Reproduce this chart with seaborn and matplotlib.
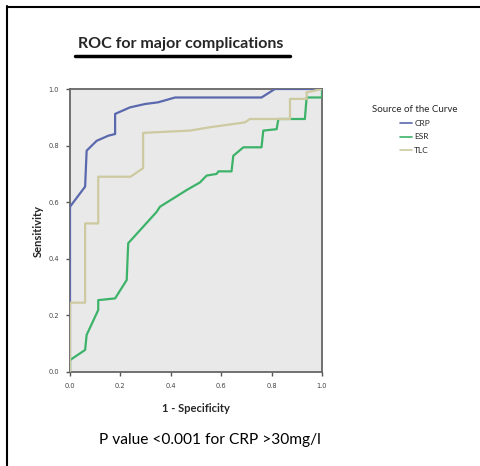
import matplotlib
matplotlib.use("Agg")
import matplotlib.pyplot as plt
import matplotlib.lines as mlines
import numpy as np
import pandas as pd
import seaborn as sns

# ROC curve points (1 - specificity, sensitivity) for each marker
crp_fpr = [0.0, 0.0, 0.06, 0.066, 0.106, 0.152, 0.179, 0.179, 0.238, 0.298, 0.35, 0.417, 0.76, 0.813, 1.0]
crp_tpr = [0.0, 0.584, 0.655, 0.782, 0.817, 0.835, 0.841, 0.912, 0.935, 0.947, 0.953, 0.97, 0.97, 1.0, 1.0]

esr_fpr = [0.0, 0.0, 0.06, 0.066, 0.112, 0.112, 0.179, 0.225, 0.231, 0.344, 0.357, 0.463, 0.516,
           0.542, 0.582, 0.589, 0.641, 0.648, 0.688, 0.76, 0.767, 0.82, 0.827, 0.932, 0.939, 1.0, 1.0]
esr_tpr = [0.0, 0.042, 0.078, 0.131, 0.219, 0.254, 0.26, 0.325, 0.455, 0.566, 0.584, 0.643, 0.67,
           0.694, 0.70, 0.709, 0.709, 0.764, 0.794, 0.794, 0.853, 0.858, 0.894, 0.894, 0.97, 0.97, 1.0]

tlc_fpr = [0.0, 0.0, 0.06, 0.06, 0.112, 0.112, 0.24, 0.29, 0.29, 0.476, 0.556, 0.694, 0.714, 0.873,
           0.873, 0.939, 0.939, 1.0]
tlc_tpr = [0.0, 0.245, 0.245, 0.525, 0.525, 0.69, 0.69, 0.72, 0.845, 0.853, 0.865, 0.882, 0.894, 0.894,
           0.965, 0.965, 0.988, 1.0]

markers = ["CRP", "ESR", "TLC"]
colors = {"CRP": "#5a68ad", "ESR": "#3db36a", "TLC": "#cdc9a0"}
ticks = [0.0, 0.2, 0.4, 0.6, 0.8, 1.0]

frames = []
for name, fpr, tpr in zip(markers, [crp_fpr, esr_fpr, tlc_fpr], [crp_tpr, esr_tpr, tlc_tpr]):
    frames.append(pd.DataFrame({"fpr": fpr, "tpr": tpr, "marker": name}))
roc = pd.concat(frames, ignore_index=True)

sns.set_style("ticks")
plt.rcParams["font.family"] = ["Lato", "DejaVu Sans"]

fig = plt.figure(figsize=(4.81, 4.66), dpi=100)
ax = fig.add_axes([70 / 481, 1 - 372 / 466, 252 / 481, 283 / 466])
ax.set_facecolor("#e9e9e9")

sns.lineplot(data=roc, x="fpr", y="tpr", hue="marker", units="marker", estimator=None,
             sort=False, palette=colors, linewidth=1.6, legend=False, ax=ax, zorder=3)

ax.set_xlim(0, 1)
ax.set_ylim(0, 1)
ax.set_xticks(ticks)
ax.set_yticks(ticks)
tick_font = dict(fontsize=4.8, color="#444444", family="DejaVu Sans")
ax.set_xticklabels([f"{t:.1f}" for t in ticks], **tick_font)
ax.set_yticklabels([f"{t:.1f}" for t in ticks], **tick_font)
ax.tick_params(length=3, width=1, color="#555555")
ax.tick_params(axis="x", pad=5)
ax.tick_params(axis="y", pad=5)
for s in ax.spines.values():
    s.set_color("#666666")
    s.set_linewidth(1.3)

ax.set_xlabel("1 - Specificity", fontsize=8, fontweight="bold", labelpad=10)
ax.set_ylabel("Sensitivity", fontsize=8, fontweight="bold", labelpad=3)

handles = [mlines.Line2D([], [], color=colors[m], linewidth=1.2) for m in markers]
leg = ax.legend(handles, markers, loc="upper left", bbox_to_anchor=(1.17, 0.97), frameon=False,
                fontsize=6, title="Source of the Curve", title_fontsize=7,
                handlelength=1.4, handletextpad=0.3, labelspacing=0.75)
leg._legend_box.align = "center"

# heading and footnote
fig.text(181 / 481, 1 - 44 / 466, "ROC for major complications", fontsize=11.5, fontweight="bold",
         ha="center", va="center")
fig.add_artist(mlines.Line2D([75 / 481, 290 / 481], [1 - 56 / 466, 1 - 56 / 466],
                             color="black", linewidth=2.5))
fig.text(210 / 481, 1 - 440 / 466, "P value <0.001 for CRP >30mg/l", fontsize=11.2,
         ha="center", va="center", color="black")

# frame lines along the top and left edges
fig.add_artist(mlines.Line2D([7 / 481, 1.0], [1 - 6.5 / 466, 1 - 6.5 / 466], color="black", linewidth=1.5))
fig.add_artist(mlines.Line2D([7.5 / 481, 7.5 / 481], [0, 1 - 6 / 466], color="black", linewidth=1.5))

fig.savefig("out.png", dpi=100)
